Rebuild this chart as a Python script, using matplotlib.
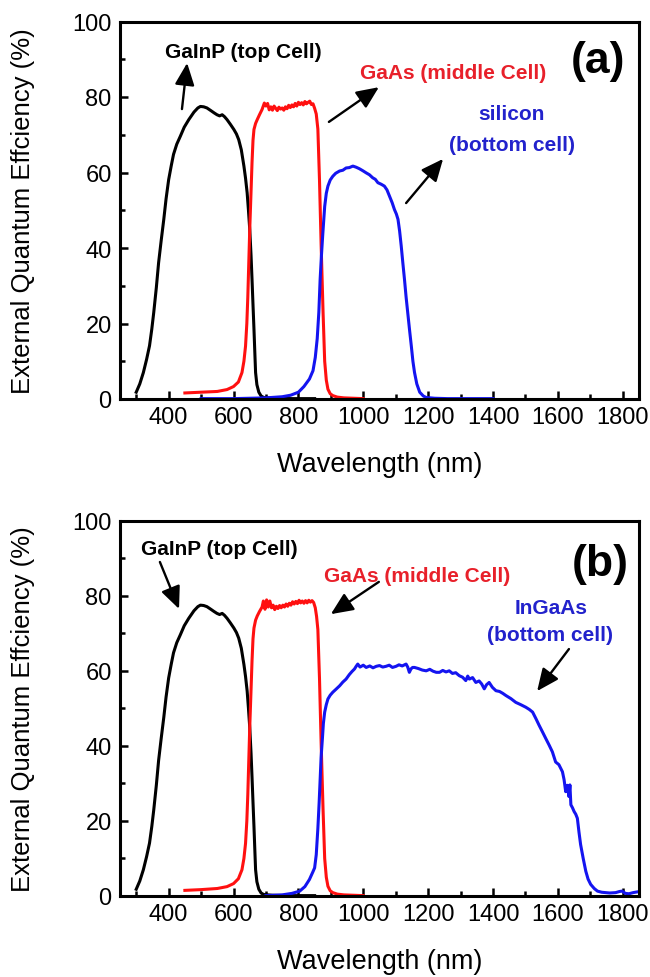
import numpy as np
import matplotlib
matplotlib.use("Agg")
import matplotlib.pyplot as plt
from matplotlib.ticker import MultipleLocator

plt.rcParams['font.family'] = ['Liberation Sans', 'DejaVu Sans']

# ---------------- data (wavelength nm, EQE %) ----------------
gainp = [(300, 1.8), (311, 4.0), (322, 7.0), (332, 10.5), (341, 14.1), (348, 18.5), (354, 22.9),
         (362, 29.5), (369, 36.1), (377, 42.0), (385, 47.6), (392, 53.0), (400, 58.1), (408, 61.8),
         (415, 64.8), (425, 67.5), (436, 69.6), (448, 72.0), (462, 74.0), (478, 76.0), (490, 77.1),
         (498, 77.5), (508, 77.4), (518, 77.1), (530, 76.4), (540, 75.8), (549, 75.3), (557, 75.0),
         (565, 75.3), (572, 74.8), (580, 74.0), (590, 72.8), (601, 71.4), (609, 70.2), (616, 68.7),
         (624, 66.0), (632, 61.7), (637, 58.5), (642, 54.6), (646, 50.0), (650, 44.9), (654, 38.0),
         (657, 31.7), (660, 25.0), (663, 18.5), (666, 11.5), (668, 7.0), (672, 3.8), (678, 1.8),
         (685, 0.8), (693, 0.4), (720, 0.2), (780, 0.1), (850, 0.1)]

gaas_a = [(450, 1.6), (500, 1.8), (550, 2.0), (580, 2.5), (600, 3.3), (615, 4.5), (626, 7.0),
          (632, 10.0), (637, 14.0), (641, 20.0), (644, 27.0), (647, 36.0), (650, 45.0), (654, 55.0),
          (657, 62.6), (660, 68.5), (663, 71.4), (668, 73.0), (673, 74.0), (680, 75.3), (688, 76.7),
          (695, 78.4), (700, 77.6), (705, 78.3), (710, 76.6), (715, 77.4), (720, 76.5), (725, 77.6),
          (730, 77.0), (735, 76.4), (740, 77.3), (745, 76.8), (750, 77.1), (755, 76.5), (760, 77.4),
          (765, 76.9), (770, 77.8), (775, 77.2), (780, 77.9), (785, 77.4), (790, 78.3), (795, 77.6),
          (800, 78.6), (805, 78.0), (810, 78.5), (815, 77.9), (820, 78.8), (825, 78.2), (830, 78.6),
          (835, 78.9), (840, 78.0), (845, 78.2), (850, 77.0), (855, 75.5), (860, 71.5), (865, 58.0),
          (870, 41.0), (876, 23.0), (881, 10.0), (886, 5.0), (891, 2.6), (898, 1.4), (906, 0.9),
          (920, 0.5), (940, 0.3), (970, 0.2), (1000, 0.1)]

silicon = [(500, 0.1), (550, 0.1), (600, 0.1), (650, 0.2), (700, 0.3), (750, 0.6), (776, 1.0),
           (800, 1.8), (817, 3.3), (834, 5.3), (845, 7.5), (852, 11.0), (858, 16.0), (863, 23.0),
           (867, 31.7), (871, 38.0), (875, 43.5), (881, 51.0), (886, 54.5), (891, 56.4), (898, 58.0),
           (906, 59.0), (915, 59.8), (927, 60.4), (937, 60.6), (947, 61.2), (957, 61.3), (968, 61.7),
           (978, 61.4), (988, 61.0), (998, 60.5), (1009, 59.9), (1019, 59.4), (1029, 58.6),
           (1037, 58.2), (1045, 57.3), (1055, 56.9), (1065, 56.4), (1073, 55.4), (1081, 53.7),
           (1089, 52.0), (1096, 50.2), (1102, 49.0), (1107, 47.6), (1112, 44.5), (1117, 40.5),
           (1122, 36.0), (1127, 31.7), (1132, 27.0), (1137, 22.9), (1143, 18.0), (1148, 14.1),
           (1153, 10.0), (1158, 7.0), (1165, 4.0), (1174, 1.8), (1185, 0.8), (1194, 0.4),
           (1220, 0.2), (1260, 0.1), (1300, 0.1), (1350, 0.1), (1400, 0.1)]

gaas_b = [(450, 1.5), (500, 1.7), (550, 2.0), (580, 2.5), (600, 3.3), (615, 4.6), (626, 7.0),
          (632, 10.0), (637, 14.0), (641, 20.0), (644, 27.0), (647, 36.0), (650, 45.0), (654, 55.0),
          (657, 62.6), (660, 68.5), (663, 71.4), (668, 73.5), (673, 74.6), (680, 75.8), (688, 77.0),
          (692, 78.6), (697, 76.4), (702, 78.9), (707, 77.0), (712, 78.6), (717, 76.8), (722, 77.5),
          (727, 76.3), (732, 77.2), (737, 76.6), (742, 77.4), (747, 76.8), (752, 77.5), (757, 77.0),
          (762, 77.8), (767, 77.2), (772, 78.0), (777, 77.5), (782, 78.4), (787, 77.8), (792, 78.5),
          (797, 77.9), (802, 78.8), (807, 78.1), (812, 78.6), (817, 78.0), (822, 78.7), (827, 78.1),
          (832, 78.8), (837, 78.3), (842, 78.7), (847, 78.2), (852, 76.8), (856, 74.5), (860, 71.0),
          (865, 58.0), (870, 41.0), (876, 23.0), (881, 10.0), (886, 5.0), (891, 2.6), (898, 1.4),
          (906, 0.9), (920, 0.5), (940, 0.3), (970, 0.2), (1000, 0.1)]

ingaas = [(700, 0.1), (750, 0.3), (780, 0.7), (804, 1.3), (820, 2.5), (834, 4.4), (845, 6.5),
          (850, 7.5), (855, 11.0), (860, 18.0), (864, 25.0), (867, 31.0), (870, 37.0), (874, 42.0),
          (877, 46.0), (881, 49.0), (886, 51.0), (891, 52.5), (898, 53.5), (906, 54.3), (916, 55.1),
          (927, 56.0), (937, 57.0), (947, 57.8), (952, 58.4), (957, 59.0), (965, 59.8), (973, 60.5),
          (978, 61.2), (983, 61.8), (990, 61.0), (1000, 61.5), (1009, 60.9), (1020, 61.3),
          (1030, 60.8), (1040, 61.2), (1050, 61.4), (1060, 61.0), (1070, 61.2), (1080, 61.5),
          (1090, 60.9), (1101, 61.2), (1110, 61.6), (1120, 61.3), (1132, 61.8), (1137, 61.0),
          (1142, 59.6), (1147, 60.5), (1152, 60.9), (1158, 60.9), (1170, 60.6), (1182, 60.2),
          (1194, 60.0), (1205, 60.4), (1215, 59.9), (1225, 59.6), (1235, 59.6), (1245, 60.1),
          (1255, 59.7), (1265, 60.0), (1275, 59.3), (1285, 59.5), (1296, 58.7), (1306, 58.3),
          (1316, 57.4), (1322, 58.6), (1327, 57.8), (1337, 58.2), (1347, 56.9), (1357, 57.3),
          (1365, 56.5), (1373, 55.2), (1380, 56.3), (1388, 56.9), (1398, 55.6), (1409, 54.7),
          (1420, 54.5), (1430, 54.0), (1440, 53.4), (1455, 52.6), (1470, 51.6), (1485, 51.0),
          (1501, 50.3), (1512, 49.7), (1522, 49.0), (1532, 47.3), (1542, 45.5), (1552, 43.8),
          (1563, 41.9), (1573, 40.2), (1583, 38.4), (1593, 35.7), (1603, 35.0), (1614, 33.1),
          (1619, 31.0), (1624, 27.8), (1629, 29.5), (1634, 26.5), (1637, 29.6), (1640, 24.3),
          (1645, 23.5), (1650, 22.5), (1655, 21.8), (1660, 20.7), (1665, 17.0), (1670, 13.7),
          (1678, 10.0), (1686, 6.6), (1693, 4.5), (1701, 3.1), (1712, 2.0), (1722, 1.3),
          (1735, 1.0), (1747, 0.9), (1760, 0.8), (1778, 0.9), (1790, 1.2), (1798, 1.3),
          (1808, 0.7), (1819, 0.6), (1832, 0.9), (1845, 1.1)]

x_ticks = [400, 600, 800, 1000, 1200, 1400, 1600, 1800]
y_ticks = [0, 20, 40, 60, 80, 100]

BLACK, RED, BLUE = '#000000', '#ff1010', '#1414f0'
TXT_RED, TXT_BLUE = '#e8202a', '#2222cc'

W, H = 650, 978
fig = plt.figure(figsize=(W / 100, H / 100), dpi=100)
ax_a = fig.add_axes([120 / W, (H - 400) / H, 519 / W, 377.5 / H])
ax_b = fig.add_axes([120 / W, (H - 897) / H, 519 / W, 375.3 / H])


def plot_series(ax, series, color):
    arr = np.array(series)
    ax.plot(arr[:, 0], arr[:, 1], color=color, lw=2.2, solid_joinstyle='round')


def style(ax):
    ax.set_xlim(250, 1850)
    ax.set_ylim(0, 100)
    ax.set_xticks(x_ticks)
    ax.set_yticks(y_ticks)
    ax.xaxis.set_minor_locator(MultipleLocator(100))
    ax.yaxis.set_minor_locator(MultipleLocator(10))
    ax.tick_params(axis='both', which='both', direction='in', top=False, right=False, width=1.8,
                   labelsize=17)
    ax.tick_params(which='major', length=6)
    ax.tick_params(which='minor', length=3.5)
    ax.tick_params(axis='x', pad=5)
    ax.tick_params(axis='y', pad=6)
    for s in ax.spines.values():
        s.set_linewidth(2.2)


arrow_kw = dict(arrowstyle='-|>,head_length=0.9,head_width=0.4', color='black', lw=1.7,
                mutation_scale=15, shrinkA=0, shrinkB=0)
FS = 15

# panel (a)
plot_series(ax_a, gainp, BLACK)
plot_series(ax_a, gaas_a, RED)
plot_series(ax_a, silicon, BLUE)
style(ax_a)
ax_a.text(629, 92, 'GaInP (top Cell)', ha='center', va='center', fontsize=FS, fontweight='bold', color='black')
ax_a.annotate('', xy=(457, 89), xytext=(441, 76.8), arrowprops=arrow_kw)
ax_a.text(1277, 86.6, 'GaAs (middle Cell)', ha='center', va='center', fontsize=FS, fontweight='bold', color=TXT_RED)
ax_a.annotate('', xy=(1048, 82.6), xytext=(894, 73.4), arrowprops=arrow_kw)
ax_a.text(1458, 75.5, 'silicon', ha='center', va='center', fontsize=FS, fontweight='bold', color=TXT_BLUE)
ax_a.text(1458, 67.5, '(bottom cell)', ha='center', va='center', fontsize=FS, fontweight='bold', color=TXT_BLUE)
ax_a.annotate('', xy=(1246, 63.6), xytext=(1132, 51.9), arrowprops=arrow_kw)
ax_a.text(1724, 89.8, '(a)', ha='center', va='center', fontsize=32, fontweight='bold', color='black')

# panel (b)
plot_series(ax_b, gainp, BLACK)
plot_series(ax_b, gaas_b, RED)
plot_series(ax_b, ingaas, BLUE)
style(ax_b)
ax_b.text(555, 92.5, 'GaInP (top Cell)', ha='center', va='center', fontsize=FS, fontweight='bold', color='black')
ax_b.annotate('', xy=(432, 76.5), xytext=(373, 89), arrowprops=arrow_kw)
ax_b.text(1166, 85.5, 'GaAs (middle Cell)', ha='center', va='center', fontsize=FS, fontweight='bold', color=TXT_RED)
ax_b.annotate('', xy=(900, 75.1), xytext=(1048, 83.7), arrowprops=arrow_kw)
ax_b.text(1579, 77, 'InGaAs', ha='center', va='center', fontsize=FS, fontweight='bold', color=TXT_BLUE)
ax_b.text(1576, 69.8, '(bottom cell)', ha='center', va='center', fontsize=FS, fontweight='bold', color=TXT_BLUE)
ax_b.annotate('', xy=(1536, 54.6), xytext=(1634, 65.8), arrowprops=arrow_kw)
ax_b.text(1730, 88.7, '(b)', ha='center', va='center', fontsize=32, fontweight='bold', color='black')

# axis labels
ylab = 'External Quantum Effciency (%)'
xlab = 'Wavelength (nm)'
fig.text(23 / W, 1 - 211 / H, ylab, rotation=90, ha='center', va='center', fontsize=18.5)
fig.text(23 / W, 1 - 709 / H, ylab, rotation=90, ha='center', va='center', fontsize=18.5)
fig.text(380 / W, 1 - 465 / H, xlab, ha='center', va='center', fontsize=19.5)
fig.text(380 / W, 1 - 962 / H, xlab, ha='center', va='center', fontsize=19.5)

fig.savefig('out.png', dpi=100, facecolor='white')
